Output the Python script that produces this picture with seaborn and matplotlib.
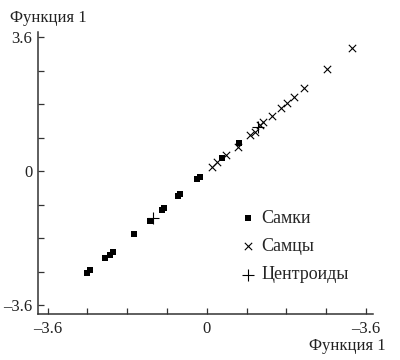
import matplotlib

matplotlib.use("Agg")
import matplotlib.pyplot as plt
import numpy as np
import seaborn as sns

# Самки (квадраты)
female_x = [-2.71, -2.65, -2.31, -2.19, -2.13, -1.65, -1.29, -1.02, -0.97, -0.66, -0.61, -0.23, -0.16, 0.34, 0.72]
female_y = [-2.74, -2.66, -2.34, -2.26, -2.18, -1.69, -1.34, -1.05, -0.99, -0.67, -0.62, -0.22, -0.16, 0.35, 0.75]

# Самцы (крестики x)
male_x = [0.11, 0.23, 0.43, 0.70, 0.97, 1.09, 1.20, 1.27, 1.47, 1.67, 1.81, 1.97, 2.19, 2.71, 3.28]
male_y = [0.11, 0.24, 0.43, 0.65, 0.97, 1.05, 1.24, 1.32, 1.48, 1.69, 1.83, 1.99, 2.23, 2.74, 3.31]

# Центроиды
centroid_x = [-1.22, 1.15]
centroid_y = [-1.26, 1.18]

tick_values = np.arange(-3.6, 3.61, 0.9)
x_tick_labels = ["–3.6", "", "", "", "0", "", "", "", "–3.6"]
y_tick_labels = ["–3.6", "", "", "", "0", "", "", "", "3.6"]

sns.set_theme(style="white")
plt.rcParams["font.family"] = ["Liberation Serif", "DejaVu Serif"]

fig = plt.figure(figsize=(4, 3.6), dpi=100)
ax = fig.add_axes([38 / 400, 1 - 314 / 360, (373 - 38) / 400, (314 - 32) / 360])

sns.scatterplot(x=female_x, y=female_y, marker="s", color="black", s=22, linewidth=0, label="Самки", ax=ax)
sns.scatterplot(x=male_x, y=male_y, marker="x", color="black", s=28, linewidth=0.8, label="Самцы", ax=ax)
sns.scatterplot(x=centroid_x, y=centroid_y, marker="+", color="black", s=70, linewidth=0.8, label="Центроиды", ax=ax)

ax.set_xlim(-3.82, 3.76)
ax.set_ylim(-3.84, 3.74)
ax.set_xticks(tick_values)
ax.set_xticklabels(x_tick_labels)
ax.set_yticks(tick_values)
ax.set_yticklabels(y_tick_labels)
ax.tick_params(bottom=True, left=True, direction="in", length=4, width=0.9, color="#333333",
               labelsize=12, labelcolor="#222222")
ax.tick_params(axis="x", pad=5)
ax.tick_params(axis="y", pad=4)

for side in ["top", "right"]:
    ax.spines[side].set_visible(False)
for side in ["left", "bottom"]:
    ax.spines[side].set_color("#333333")
    ax.spines[side].set_linewidth(1.1)

ax.set_xlabel("")
ax.set_ylabel("")

ax.legend(
    loc="upper left",
    bbox_to_anchor=(239 / 400, 1 - 210 / 360),
    bbox_transform=fig.transFigure,
    frameon=False,
    fontsize=13,
    handlelength=0.95,
    handletextpad=0.3,
    labelspacing=0.62,
    borderpad=0,
    borderaxespad=0,
)

fig.text(10 / 400, 1 - 18 / 360, "Функция 1", fontsize=12, va="center", ha="left", color="#222222")
fig.text(386 / 400, 1 - 346 / 360, "Функция 1", fontsize=12, va="center", ha="right", color="#222222")

fig.savefig("out.png", dpi=100)
